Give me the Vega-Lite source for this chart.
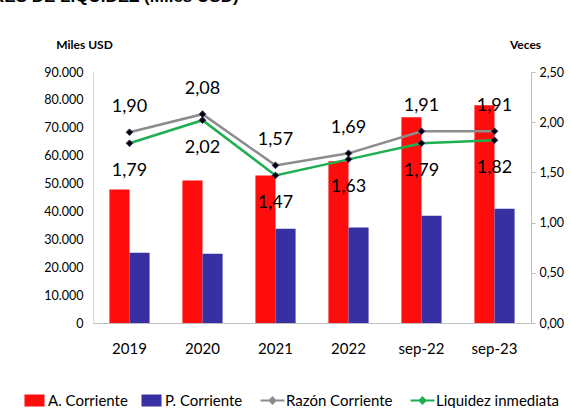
{
  "$schema": "https://vega.github.io/schema/vega-lite/v6.json",
  "width": 438,
  "height": 251,
  "autosize": {"type": "none"},
  "padding": {"left": 93, "top": 72, "right": 40, "bottom": 85},
  "background": "white",
  "title": {
    "text": "INDICADORES DE LIQUIDEZ (Miles USD)",
    "anchor": "start",
    "frame": "group",
    "dx": -185,
    "fontSize": 17,
    "fontWeight": "bold",
    "font": "Liberation Sans",
    "color": "#000",
    "offset": 32
  },
  "config": {
    "locale": {"number": {"decimal": ",", "thousands": ".", "grouping": [3], "currency": ["$", ""]}},
    "view": {"stroke": null},
    "font": "Lato",
    "axis": {"grid": false, "labelFont": "Lato", "titleFont": "Lato", "labelColor": "#000", "titleColor": "#000"}
  },
  "data": {
    "values": [
      {"periodo": "2019", "serie": "A. Corriente", "valor": 47900},
      {"periodo": "2019", "serie": "P. Corriente", "valor": 25200},
      {"periodo": "2020", "serie": "A. Corriente", "valor": 51100},
      {"periodo": "2020", "serie": "P. Corriente", "valor": 24800},
      {"periodo": "2021", "serie": "A. Corriente", "valor": 52900},
      {"periodo": "2021", "serie": "P. Corriente", "valor": 33800},
      {"periodo": "2022", "serie": "A. Corriente", "valor": 58000},
      {"periodo": "2022", "serie": "P. Corriente", "valor": 34200},
      {"periodo": "sep-22", "serie": "A. Corriente", "valor": 73800},
      {"periodo": "sep-22", "serie": "P. Corriente", "valor": 38500},
      {"periodo": "sep-23", "serie": "A. Corriente", "valor": 78100},
      {"periodo": "sep-23", "serie": "P. Corriente", "valor": 41000},
      {"periodo": "2019", "serie": "Razón Corriente", "valor": 1.90},
      {"periodo": "2020", "serie": "Razón Corriente", "valor": 2.08},
      {"periodo": "2021", "serie": "Razón Corriente", "valor": 1.57},
      {"periodo": "2022", "serie": "Razón Corriente", "valor": 1.69},
      {"periodo": "sep-22", "serie": "Razón Corriente", "valor": 1.91},
      {"periodo": "sep-23", "serie": "Razón Corriente", "valor": 1.91},
      {"periodo": "2019", "serie": "Liquidez inmediata", "valor": 1.79},
      {"periodo": "2020", "serie": "Liquidez inmediata", "valor": 2.02},
      {"periodo": "2021", "serie": "Liquidez inmediata", "valor": 1.47},
      {"periodo": "2022", "serie": "Liquidez inmediata", "valor": 1.63},
      {"periodo": "sep-22", "serie": "Liquidez inmediata", "valor": 1.79},
      {"periodo": "sep-23", "serie": "Liquidez inmediata", "valor": 1.82}
    ]
  },
  "encoding": {
    "x": {
      "field": "periodo",
      "type": "nominal",
      "sort": ["2019", "2020", "2021", "2022", "sep-22", "sep-23"],
      "scale": {"paddingInner": 0.45, "paddingOuter": 0.225},
      "axis": {"title": null, "labelAngle": 0, "labelFontSize": 15, "ticks": false, "labelPadding": 18, "domainColor": "#bfbfbf", "domainWidth": 1}
    }
  },
  "layer": [
    {
      "transform": [{"filter": "datum.serie == 'A. Corriente' || datum.serie == 'P. Corriente'"}],
      "mark": {"type": "bar"},
      "encoding": {
        "xOffset": {"field": "serie", "type": "nominal", "sort": ["A. Corriente", "P. Corriente"], "scale": {"paddingInner": 0, "paddingOuter": 0}},
        "y": {
          "field": "valor",
          "type": "quantitative",
          "scale": {"domain": [0, 90000], "nice": false},
          "axis": {
            "title": "Miles USD",
            "titleAngle": 0,
            "titleAlign": "center",
            "titleBaseline": "middle",
            "titleX": -9,
            "titleY": -28,
            "titleFontSize": 12,
            "titleFontWeight": "bold",
            "values": [0, 10000, 20000, 30000, 40000, 50000, 60000, 70000, 80000, 90000],
            "format": ",.0f",
            "ticks": false,
            "labelPadding": 10,
            "labelFontSize": 12.5,
            "domainColor": "#d9d9d9"
          }
        },
        "color": {
          "field": "serie",
          "type": "nominal",
          "scale": {
            "domain": ["A. Corriente", "P. Corriente", "Razón Corriente", "Liquidez inmediata"],
            "range": ["#FF0D0D", "#3730A3", "#8C8C8C", "#1DAF50"]
          },
          "legend": {
            "title": null,
            "orient": "none",
            "legendX": -66,
            "legendY": 321,
            "direction": "horizontal",
            "gridAlign": "none",
            "labelFont": "Lato",
            "labelFontSize": 15,
            "labelLimit": 300,
            "labelColor": "#000",
            "symbolSize": 144,
            "labelOffset": 6,
            "columnPadding": 13,
            "encode": {
              "symbols": {
                "update": {
                  "shape": {"signal": "indexof(['A. Corriente','P. Corriente'], datum.value) >= 0 ? 'M-1.67,-1H1.67V1H-1.67Z' : 'M-2,0H2M0,-0.5L0.5,0L0,0.5L-0.5,0Z'"},
                  "fill": {"signal": "indexof(['A. Corriente','P. Corriente'], datum.value) >= 0 ? scale('color', datum.value) : '#111'"},
                  "stroke": {"signal": "scale('color', datum.value)"},
                  "strokeWidth": {"signal": "indexof(['A. Corriente','P. Corriente'], datum.value) >= 0 ? 0 : 2"},
                  "opacity": {"value": 1},
                  "fillOpacity": {"value": 1}
                }
              }
            }
          }
        }
      }
    },
    {
      "transform": [{"filter": "datum.serie == 'Razón Corriente' || datum.serie == 'Liquidez inmediata'"}],
      "encoding": {
        "y": {
          "field": "valor",
          "type": "quantitative",
          "scale": {"domain": [0, 2.5], "nice": false},
          "axis": {
            "orient": "right",
            "title": "Veces",
            "titleAngle": 0,
            "titleAlign": "center",
            "titleBaseline": "middle",
            "titleX": -6,
            "titleY": -28,
            "titleFontSize": 12,
            "titleFontWeight": "bold",
            "values": [0, 0.5, 1, 1.5, 2, 2.5],
            "format": ".2f",
            "tickSize": 4,
            "tickColor": "#bfbfbf",
            "labelPadding": 4,
            "labelFontSize": 12.5,
            "domainColor": "#bfbfbf"
          }
        }
      },
      "layer": [
        {
          "mark": {"type": "line", "strokeWidth": 2.5},
          "encoding": {
            "color": {"field": "serie", "type": "nominal"}
          }
        },
        {
          "mark": {"type": "point", "shape": "diamond", "filled": true, "size": 45, "fill": "#000", "stroke": "#3a2d6e", "strokeWidth": 1, "opacity": 1},
          "encoding": {"detail": {"field": "serie"}}
        },
        {
          "transform": [{"filter": "datum.serie == 'Razón Corriente'"}],
          "mark": {"type": "text", "dy": -25, "fontSize": 18, "font": "Lato", "color": "#000"},
          "encoding": {"text": {"field": "valor", "type": "quantitative", "format": ".2f"}}
        },
        {
          "transform": [{"filter": "datum.serie == 'Liquidez inmediata'"}],
          "mark": {"type": "text", "dy": 28, "fontSize": 18, "font": "Lato", "color": "#000"},
          "encoding": {"text": {"field": "valor", "type": "quantitative", "format": ".2f"}}
        }
      ]
    }
  ],
  "resolve": {"scale": {"y": "independent"}}
}
